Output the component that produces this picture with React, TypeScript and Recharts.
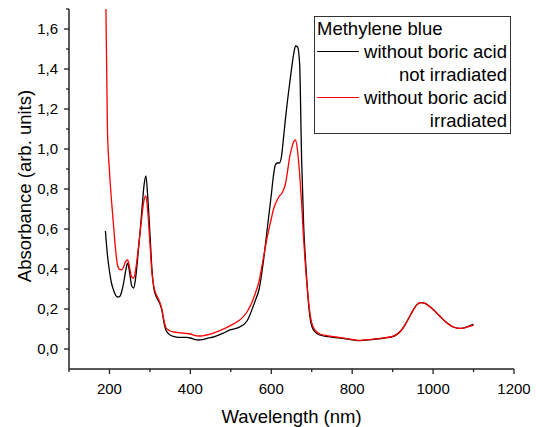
import React from 'react';
import { LineChart, Line, XAxis, YAxis } from 'recharts';

const wavelengths = [
  190, 195, 200, 205, 210, 215, 220, 225, 230, 235, 240, 245, 250, 255, 260, 265, 270, 275, 280, 285, 290, 295, 300, 305, 310, 315, 320, 325, 330, 335, 340,
  350, 360, 370, 380, 390, 400, 410, 420, 430, 440,
  460, 480, 500, 520, 540, 560,
  570, 580, 590, 600,
  605, 610, 615, 620, 625, 630, 635, 640, 645, 650, 655, 660, 665, 670, 675, 680, 685, 690, 695, 700,
  710, 720,
  740, 760, 780, 800, 820, 840, 860, 880, 900,
  910, 920, 930, 940, 950, 960, 970, 980, 990, 1000, 1010, 1020, 1030, 1040, 1050, 1060, 1070, 1080, 1090, 1100,
];

const absNotIrradiated = [
  0.59, 0.47, 0.39, 0.33, 0.295, 0.27, 0.26, 0.262, 0.285, 0.33, 0.39, 0.43, 0.38, 0.315, 0.305, 0.36, 0.46, 0.57, 0.69, 0.81, 0.865, 0.75, 0.58, 0.4, 0.3, 0.265, 0.245, 0.225, 0.19, 0.13, 0.092,
  0.07, 0.062, 0.058, 0.058, 0.058, 0.055, 0.048, 0.045, 0.047, 0.052,
  0.062, 0.078, 0.097, 0.108, 0.14, 0.24,
  0.3, 0.43, 0.6, 0.77,
  0.86, 0.92, 0.93, 0.93, 0.96, 1.05, 1.15, 1.24, 1.32, 1.4, 1.47, 1.515, 1.51, 1.43, 0.95, 0.62, 0.43, 0.28, 0.17, 0.115,
  0.082, 0.07,
  0.062, 0.057, 0.052, 0.046, 0.042, 0.046, 0.05, 0.055, 0.062,
  0.072, 0.09, 0.118, 0.155, 0.192, 0.222, 0.232, 0.228, 0.215, 0.198, 0.178, 0.157, 0.138, 0.122, 0.11, 0.104, 0.103, 0.108, 0.116, 0.123,
];

const absIrradiated = [
  1.9, 1.1, 0.89, 0.745, 0.62, 0.5, 0.42, 0.398, 0.396, 0.41, 0.438, 0.445, 0.405, 0.36, 0.355, 0.4, 0.48, 0.57, 0.66, 0.74, 0.765, 0.68, 0.53, 0.38, 0.31, 0.275, 0.255, 0.23, 0.195, 0.14, 0.105,
  0.09, 0.085, 0.082, 0.08, 0.078, 0.075, 0.068, 0.065, 0.066, 0.07,
  0.082, 0.098, 0.118, 0.142, 0.185, 0.275,
  0.34, 0.45, 0.56, 0.65,
  0.695, 0.725, 0.745, 0.765, 0.775, 0.795, 0.825, 0.885, 0.955, 1.0, 1.035, 1.045, 0.99, 0.88, 0.73, 0.55, 0.4, 0.28, 0.19, 0.13,
  0.09, 0.075,
  0.066, 0.06, 0.054, 0.048, 0.043, 0.047, 0.051, 0.056, 0.063,
  0.073, 0.09, 0.118, 0.155, 0.192, 0.222, 0.232, 0.228, 0.215, 0.198, 0.178, 0.157, 0.138, 0.122, 0.11, 0.104, 0.103, 0.107, 0.113, 0.12,
];

const xTicks = [100, 200, 300, 400, 500, 600, 700, 800, 900, 1000, 1100, 1200];
const xMajorTicks = [200, 400, 600, 800, 1000, 1200];
const yTicks = [0, 0.1, 0.2, 0.3, 0.4, 0.5, 0.6, 0.7, 0.8, 0.9, 1.0, 1.1, 1.2, 1.3, 1.4, 1.5, 1.6, 1.7];
const yMajorTicks = [0, 0.2, 0.4, 0.6, 0.8, 1.0, 1.2, 1.4, 1.6];

const legendTitle = 'Methylene blue';
const seriesLabels = [
  ['without boric acid', 'not irradiated'],
  ['without boric acid', 'irradiated'],
];
const seriesColors = ['#000000', '#ff0000'];
const xLabel = 'Wavelength (nm)';
const yLabel = 'Absorbance (arb. units)';

const data = wavelengths.map((w, i) => ({ w, a: absNotIrradiated[i], b: absIrradiated[i] }));

const FONT = '"Liberation Sans", Arial, sans-serif';
const AXIS = '#222';

const XTick = (props: any) => {
  const { x, y, payload } = props;
  const major = xMajorTicks.includes(payload.value);
  return (
    <g>
      <line x1={x} x2={x} y1={y} y2={y + (major ? 5 : 3)} stroke={AXIS} strokeWidth={1.3} />
      {major && (
        <text x={x} y={y + 14} dy="0.71em" textAnchor="middle" fontSize={15} fontFamily={FONT} fill="#000">
          {payload.value}
        </text>
      )}
    </g>
  );
};

const YTick = (props: any) => {
  const { x, y, payload } = props;
  const major = yMajorTicks.some((t) => Math.abs(t - payload.value) < 1e-6);
  return (
    <g>
      <line x1={x} x2={x - (major ? 5 : 3)} y1={y} y2={y} stroke={AXIS} strokeWidth={1.3} />
      {major && (
        <text x={x - 11} y={y} dy="0.355em" textAnchor="end" fontSize={15} fontFamily={FONT} fill="#000">
          {payload.value.toFixed(1).replace('.', ',')}
        </text>
      )}
    </g>
  );
};

export default function App() {
  return (
    <div style={{ position: 'absolute', left: 0, top: 0, width: 536, height: 427, background: '#fff' }}>
      <LineChart width={536} height={427} data={data} margin={{ top: 9, right: 22, left: 9, bottom: 28 }}>
        <XAxis
          dataKey="w"
          type="number"
          domain={[100, 1200]}
          ticks={xTicks}
          allowDataOverflow
          tickSize={0}
          tickMargin={0}
          height={30}
          interval={0}
          axisLine={{ stroke: AXIS, strokeWidth: 1.5 }}
          tickLine={false}
          tick={<XTick />}
          label={{
            content: () => (
              <text x={291.5} y={423} textAnchor="middle" fontSize={18.5} fontFamily={FONT} fill="#000">
                {xLabel}
              </text>
            ),
          }}
        />
        <YAxis
          type="number"
          domain={[-0.1, 1.7]}
          ticks={yTicks}
          allowDataOverflow
          tickSize={0}
          tickMargin={0}
          width={60}
          interval={0}
          axisLine={{ stroke: AXIS, strokeWidth: 1.5 }}
          tickLine={false}
          tick={<YTick />}
          label={{
            content: () => (
              <text
                x={31}
                y={186}
                transform="rotate(-90, 31, 186)"
                textAnchor="middle"
                fontSize={18.5}
                fontFamily={FONT}
                fill="#000"
              >
                {yLabel}
              </text>
            ),
          }}
        />
        <Line type="monotone" dataKey="a" stroke={seriesColors[0]} strokeWidth={1.3} dot={false} isAnimationActive={false} />
        <Line type="monotone" dataKey="b" stroke={seriesColors[1]} strokeWidth={1.3} dot={false} isAnimationActive={false} />
      </LineChart>
      <div
        style={{
          position: 'absolute',
          left: 314,
          top: 16,
          width: 197,
          height: 118,
          boxSizing: 'border-box',
          border: '1px solid #333',
          background: '#fff',
          fontFamily: FONT,
          fontSize: 18.5,
          lineHeight: '23px',
          color: '#000',
          padding: '0 3px 0 2px',
        }}
      >
        <div style={{ textAlign: 'left' }}>{legendTitle}</div>
        {seriesLabels.map((lines, i) => (
          <div key={i}>
            <div style={{ position: 'relative', textAlign: 'right', whiteSpace: 'nowrap' }}>
              <svg width={42} height={23} style={{ position: 'absolute', left: 0, top: 0 }}>
                <line x1={0} x2={42} y1={11.5} y2={11.5} stroke={seriesColors[i]} strokeWidth={1.2} />
              </svg>
              {lines[0]}
            </div>
            <div style={{ textAlign: 'right', whiteSpace: 'nowrap' }}>{lines[1]}</div>
          </div>
        ))}
      </div>
    </div>
  );
}
